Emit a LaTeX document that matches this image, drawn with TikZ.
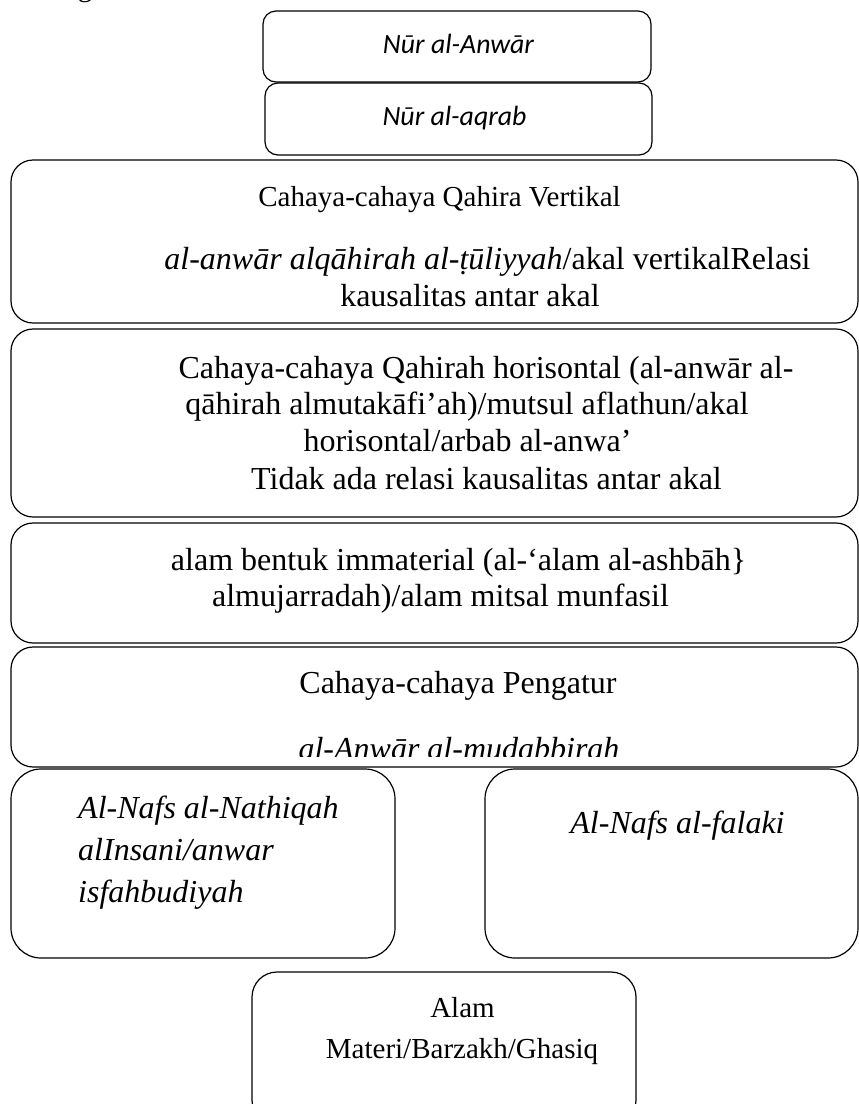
\documentclass[tikz,border=0pt]{standalone}
\usepackage{fontspec}
\setmainfont{Liberation Serif}
\newfontfamily\calib{Carlito}
\tikzset{
  box/.style={draw, line width=1.2pt, inner sep=0pt, rounded corners=#1},
  box/.default=22pt,
  txt/.style={anchor=base, inner sep=0pt, font=\fontsize{32}{38}\selectfont},
  stxt/.style={anchor=base, inner sep=0pt, font=\fontsize{29}{35}\selectfont},
  itxt/.style={anchor=base, inner sep=0pt, font=\fontsize{32}{38}\selectfont\itshape},
  ltxt/.style={anchor=base west, inner sep=0pt, font=\fontsize{32}{38}\selectfont\itshape},
  ctxt/.style={anchor=base, inner sep=0pt, font=\calib\itshape\fontsize{27.8}{33}\selectfont}
}
\begin{document}
\begin{tikzpicture}[x=1pt,y=-1pt]
\useasboundingbox (0,0) rectangle (859,1104);
% fragment of text above the figure
\node[stxt] (frag) at (85,-4) {g};
% boxes
\node[box=13pt, minimum width=388pt, minimum height=71pt] (b1) at (457,46.5) {};
\node[box=13pt, minimum width=387pt, minimum height=72pt] (b2) at (458.5,119) {};
\node[box, minimum width=847pt, minimum height=163pt] (b3) at (434.5,241.5) {};
\node[box, minimum width=847pt, minimum height=188pt] (b4) at (434.5,423) {};
\node[box, minimum width=847pt, minimum height=120pt] (b5) at (434.5,583) {};
\node[box, minimum width=847pt, minimum height=120pt] (b6) at (434.5,707) {};
\node[box=30pt, minimum width=384pt, minimum height=189pt] (b7) at (203,863.5) {};
\node[box=30pt, minimum width=373pt, minimum height=189pt] (b8) at (671.5,863.5) {};
\node[box=25pt, minimum width=384pt, minimum height=153pt] (b9) at (444,1048.5) {};
% texts
\node[ctxt] (t1) at (458.5,53) {Nūr al-Anwār};
\node[ctxt] (t2) at (454.5,125) {Nūr al-aqrab};
\node[stxt] (t3a) at (439.5,206) {Cahaya-cahaya Qahira Vertikal};
\node[txt] (t3b) at (487.5,269) {\textit{al-anwār alqāhirah al-ṭūliyyah}/akal vertikalRelasi};
\node[txt] (t3c) at (470,306) {kausalitas antar akal};
\node[txt] (t4a) at (486,378) {Cahaya-cahaya Qahirah horisontal (al-anwār al-};
\node[txt] (t4b) at (467,414) {qāhirah almutakāfi’ah)/mutsul aflathun/akal};
\node[txt] (t4c) at (467.5,451) {horisontal/arbab al-anwa’};
\node[txt] (t4d) at (486.5,489) {Tidak ada relasi kausalitas antar akal};
\node[txt] (t5a) at (458.5,570) {alam bentuk immaterial (al-‘alam al-ashbāh\}};
\node[txt] (t5b) at (440.5,606) {almujarradah)/alam mitsal munfasil};
\node[txt] (t6a) at (458,693) {Cahaya-cahaya Pengatur};
\begin{scope}
\clip (11,647) rectangle (858,756);
\node[itxt] (t6b) at (459,759) {al-Anwār al-mudabbirah};
\end{scope}
\node[ltxt] (t7a) at (78,818) {Al-Nafs al-Nathiqah};
\node[ltxt] (t7b) at (78,860) {alInsani/anwar};
\node[ltxt] (t7c) at (78,902) {isfahbudiyah};
\node[itxt] (t8) at (677.5,833) {Al-Nafs al-falaki};
\node[stxt] (t9a) at (462.5,1017) {Alam};
\node[stxt] (t9b) at (462,1058) {Materi/Barzakh/Ghasiq};
\end{tikzpicture}
\end{document}
